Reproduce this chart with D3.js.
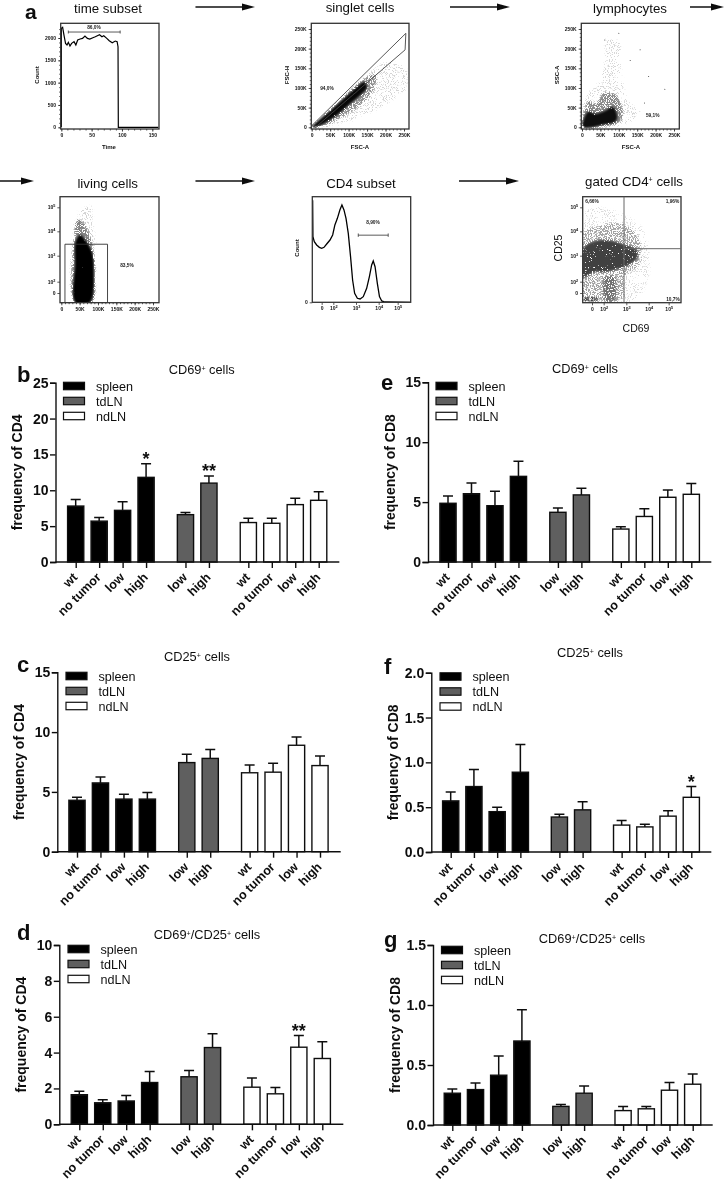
<!DOCTYPE html>
<html><head><meta charset="utf-8">
<style>html,body{margin:0;padding:0;background:#fff}svg{display:block;font-family:"Liberation Sans",Arial,sans-serif}</style>
<script src="https://cdn.jsdelivr.net/npm/d3@7"></script></head><body>
<script>
// ---------- bar chart data ----------
const categories = ["wt","no tumor","low","high","low","high","wt","no tumor","low","high"];
const organs = ["spleen","spleen","spleen","spleen","tdLN","tdLN","ndLN","ndLN","ndLN","ndLN"];
const slots = [0,1,2,3,4.68,5.68,7.36,8.36,9.36,10.36];
const legendLabels = ["spleen","tdLN","ndLN"];
const cd4Cd69Mean = [7.8,5.7,7.2,11.8,6.6,11,5.5,5.4,8,8.6];
const cd4Cd69Top  = [8.7,6.2,8.4,13.7,6.9,12,6.1,6.1,8.9,9.8];
const cd4Cd25Mean = [4.3,5.75,4.4,4.4,7.45,7.8,6.6,6.65,8.9,7.2];
const cd4Cd25Top  = [4.55,6.25,4.8,4.95,8.15,8.55,7.25,7.4,9.6,8.0];
const cd4DoubleMean = [1.65,1.2,1.3,2.33,2.65,4.28,2.07,1.7,4.3,3.67];
const cd4DoubleTop  = [1.85,1.37,1.6,2.95,3.0,5.05,2.58,2.05,4.95,4.6];
const cd8Cd69Mean = [4.9,5.7,4.7,7.15,4.15,5.6,2.75,3.8,5.4,5.65];
const cd8Cd69Top  = [5.5,6.6,5.9,8.4,4.5,6.15,2.95,4.45,6.0,6.55];
const cd8Cd25Mean = [.57,.73,.45,.89,.39,.47,.30,.28,.40,.61];
const cd8Cd25Top  = [.67,.92,.50,1.2,.42,.56,.35,.31,.46,.73];
const cd8DoubleMean = [.265,.295,.415,.70,.155,.265,.12,.135,.29,.34];
const cd8DoubleTop  = [.30,.35,.575,.96,.17,.325,.155,.155,.355,.425];

// ---------- gating plot data ----------
const timeT = [0,0,2.2,4.4,7,9.4,11.6,14.3,17,21,24,27,31,35,39,43,47,52,56,63,67,70,75,79,84,89,92,93.5,94,97,160];
const timeCount = [0,2216,2238,2066,1880,1843,1902,1820,1880,1917,1843,1955,1977,1992,2044,1992,1977,2007,2029,2074,2029,2052,1992,1940,1895,1932,1917,1805,0,0,0];
const cd4X = [-1.54,-1.49,-1.26,-.86,-.4,0,.4,.86,1.43,1.89,2.07,2.18,2.29,2.38,2.47,2.56,2.66,2.76,2.85,2.94,3.06,3.18,3.32,3.47,3.59,3.69,3.76,3.84,3.94,4.04,4.16,4.33,5.68];
const cd4Y = [105,67.5,62.3,58.9,56.5,55.5,56.5,59.9,64,69.2,79.5,86.3,94.9,100,94.9,86.3,70.9,46.9,22.9,9.2,4.1,3.4,5.8,14.4,26.4,38.4,42.5,36.6,19.5,5.8,1.4,.3,0];

const singletCloud = [
 {o:.17, p:[[10,0],[80,70],[150,135],[195,165],[255,150],[258,100],[220,70],[170,40],[120,20],[60,3]]},
 {o:.32, p:[[0,0],[60,55],[110,100],[150,130],[175,135],[170,100],[140,62],[100,35],[55,10],[20,0]]},
 {o:.95, p:[[2,1],[50,42],[95,80],[124,104],[142,116],[150,101],[130,80],[98,55],[60,25],[18,3]]}];
const singletGate = [[0,4],[255,239],[253,197],[10,0]];
const lymphCloud = [
 {o:.16, p:[[5,2],[9,78],[40,110],[62,170],[65,225],[100,225],[108,140],[125,70],[160,36],[109,6]]},
 {o:.36, p:[[2,0],[5,40],[18,68],[36,60],[59,88],[92,84],[112,36],[104,12],[54,2]]},
 {o:.9,  p:[[2,0],[7,26],[18,40],[36,34],[63,42],[84,52],[96,27],[90,14],[54,6],[27,0]]}];
const lymphOutliers = [[225,97],[100,239],[62,222],[158,197],[181,129],[131,170],[170,62]];
const livingCloud = [
 {o:.17, p:[[37,3.92],[41,4.6],[51,4.96],[83,5.03],[87,4.33],[92,3.37]]},
 {o:.38, p:[[36,-1.7],[34,3.92],[41,4.47],[55,4.47],[73,4.05],[90,3.1],[93,2.06],[86,-1.7]]},
 {o:1,   p:[[38,-1.7],[37,2.7],[39,3.6],[51,3.85],[67,3.6],[85,3.1],[89,2.32],[86,-.65],[77,-1.7]]}];
const livingGate = [[10,-1.7],[10,3.47],[126,3.47],[126,-1.7]];
const gatedCloud = [
 {o:.14, p:[[-1.49,-1.53],[-1.49,4.76],[.57,5.03],[3.55,4.33],[4,3.35],[4,2.19],[3.4,-1.2]]},
 {o:.26, p:[[-1.49,-1.53],[-1.49,3.92],[.57,4.2],[2.81,4.33],[3.55,3.78],[3.63,2.71],[2.96,2.19],[2.81,-1.2],[1.71,-1.53]]},
 {o:.3,  p:[[2.07,-1.53],[2.07,2.19],[2.46,2.19],[2.46,-1.53]]},
 {o:.6,  p:[[-1.49,2.19],[-1.49,3.3],[1.71,3.64],[2.96,3.44],[3.47,3.23],[3.47,2.9],[2.96,2.58],[2.07,2.38],[.57,2.38]]}];

const kTicks = [0,50,100,150,200,250];
const kMinor = d3.range(0,260,10);
const decadeTicks = [0,2,3,4,5];
const countTicks = [0,500,1000,1500,2000];
const timeTicks = [0,50,100,150];

// ---------- page ----------
const W=724,H=1181;
const svg=d3.select("body").append("svg").attr("width",W).attr("height",H).attr("viewBox",[0,0,W,H]);
svg.append("rect").attr("width",W).attr("height",H).attr("fill","#fff");
const defs=svg.append("defs");
const soft=defs.append("filter").attr("id","soft").attr("filterUnits","userSpaceOnUse").attr("x",0).attr("y",0).attr("width",W).attr("height",H);
soft.append("feGaussianBlur").attr("stdDeviation",.42);
const softB=defs.append("filter").attr("id","softB").attr("filterUnits","userSpaceOnUse").attr("x",0).attr("y",0).attr("width",W).attr("height",H);
softB.append("feGaussianBlur").attr("stdDeviation",.28);
// density stipple: the nested outlines above carry the cloud shapes, this only gives them a grain
const st=defs.append("filter").attr("id","stipple").attr("filterUnits","userSpaceOnUse").attr("x",0).attr("y",0).attr("width",W).attr("height",H).attr("color-interpolation-filters","sRGB");
st.append("feGaussianBlur").attr("in","SourceAlpha").attr("stdDeviation",1.2).attr("result","D");
st.append("feTurbulence").attr("type","fractalNoise").attr("baseFrequency",.95).attr("numOctaves",2).attr("seed",4).attr("result","T");
st.append("feColorMatrix").attr("in","T").attr("type","matrix").attr("values","0 0 0 0 0 0 0 0 0 0 0 0 0 0 0 1 0 0 0 0").attr("result","N");
st.append("feComposite").attr("in","D").attr("in2","N").attr("operator","arithmetic").attr("k1",0).attr("k2",.55).attr("k3",1).attr("k4",-.66).attr("result","S");
const ct=st.append("feComponentTransfer").attr("in","S").attr("result","S2");
ct.append("feFuncA").attr("type","linear").attr("slope",14).attr("intercept",0);
st.append("feComposite").attr("in","S2").attr("in2","D").attr("operator","in");

const gA=svg.append("g").attr("filter","url(#soft)");
const gB=svg.append("g").attr("filter","url(#softB)");

// ---------- panel a helpers ----------
function sup(sel){ // turn decade tick labels into 10 with a superscript
  sel.each(function(d){const t=d3.select(this);t.text(null);
    if(d===0){t.text("0");return;}
    t.append("tspan").text("10");
    t.append("tspan").text(d).attr("dy",-2).attr("font-size",3.8);});
}
let clipN=0;
function frame(f){
  const g=gA.append("g");
  const id="clip"+(clipN++);
  defs.append("clipPath").attr("id",id).append("rect").attr("x",f.l).attr("y",f.t).attr("width",f.r-f.l).attr("height",f.b-f.t);
  const content=g.append("g").attr("clip-path",`url(#${id})`);
  const styleAxis=a=>{a.select(".domain").remove();a.selectAll("line").attr("stroke","#111").attr("stroke-width",.7);
    a.selectAll("text").attr("font-size",5).attr("font-weight","bold").attr("fill","#111").attr("font-family","Liberation Sans");};
  if(f.xTicks){
    const ax=g.append("g").attr("transform",`translate(0,${f.b})`);
    if(f.xMinor) ax.append("g").call(d3.axisBottom(f.x).tickValues(f.xMinor).tickSize(1.5).tickFormat("")).call(styleAxis);
    const m=ax.append("g").call(d3.axisBottom(f.x).tickValues(f.xTicks).tickSize(2.6).tickPadding(2).tickFormat(f.xFmt||(d=>d))).call(styleAxis);
    if(f.xSup) m.selectAll("text").call(sup);
  }
  if(f.yTicks){
    const ay=g.append("g").attr("transform",`translate(${f.l},0)`);
    if(f.yMinor) ay.append("g").call(d3.axisLeft(f.y).tickValues(f.yMinor).tickSize(1.5).tickFormat("")).call(styleAxis);
    const m=ay.append("g").call(d3.axisLeft(f.y).tickValues(f.yTicks).tickSize(2.6).tickPadding(2).tickFormat(f.yFmt||(d=>d))).call(styleAxis);
    if(f.ySup) m.selectAll("text").call(sup);
  }
  g.append("rect").attr("x",f.l).attr("y",f.t).attr("width",f.r-f.l).attr("height",f.b-f.t).attr("fill","none").attr("stroke","#333").attr("stroke-width",1.3);
  return {g,content};
}
function cloud(content,f,layers){
  const line=d3.line().x(d=>f.x(d[0])).y(d=>f.y(d[1])).curve(d3.curveCatmullRomClosed.alpha(.5));
  const c=content.append("g").attr("filter","url(#stipple)");
  c.selectAll("path").data(layers).join("path").attr("d",d=>line(d.p)).attr("fill","#000").attr("fill-opacity",d=>d.o);
}
function small(g,x,y,txt){g.append("text").attr("x",x).attr("y",y).attr("text-anchor","middle").attr("font-size",4.8).attr("font-weight","bold").attr("fill","#222").text(txt);}
function axisName(g,x,y,txt,rot,size=6){
  g.append("text").attr("transform",`translate(${x},${y})${rot?" rotate(-90)":""}`).attr("text-anchor","middle").attr("font-size",size).attr("font-weight","bold").attr("fill","#111").text(txt);
}
function title(g,x,y,txt,supAfter,rest){
  const t=g.append("text").attr("x",x).attr("y",y).attr("text-anchor","middle").attr("font-size",13.3).attr("fill","#111").text(txt);
  if(supAfter){t.append("tspan").text("+").attr("dy",-4).attr("font-size",7);t.append("tspan").text(rest).attr("dy",4);}
}
const kFmt=d=>d===0?"0":d+"K";

// time subset
{
 const f={l:60.7,r:159,t:23.3,b:129,
  x:d3.scaleLinear().domain([0,150]).range([61.3,152.3]),
  y:d3.scaleLinear().domain([0,2000]).range([127.3,38]),xTicks:timeTicks,yTicks:countTicks,
  xMinor:d3.range(0,160,10),yMinor:d3.range(0,2300,100)};
 const {g,content}=frame(f);
 content.append("path").datum(timeT.map((t,i)=>[t,timeCount[i]])).attr("fill","none").attr("stroke","#000").attr("stroke-width",1.2)
   .attr("d",d3.line().x(d=>f.x(d[0])).y(d=>f.y(d[1])));
 g.append("path").attr("d",`M${f.x(11.6)},${f.y(2134)}H${f.x(97)}M${f.x(11.6)},${f.y(2134)-1.5}v3M${f.x(97)},${f.y(2134)-1.5}v3`).attr("stroke","#333").attr("fill","none").attr("stroke-width",.8);
 small(g,94,29,"86,0%");
 axisName(g,38.5,75,"Count",true);axisName(g,109,149,"Time",false);
}
// singlet
{
 const f={l:311.3,r:409,t:23.3,b:129,
  x:d3.scaleLinear().domain([0,250]).range([311.7,404]),
  y:d3.scaleLinear().domain([0,250]).range([127.3,29]),
  xTicks:kTicks,yTicks:kTicks,xFmt:kFmt,yFmt:kFmt,xMinor:kMinor,yMinor:kMinor};
 const {g,content}=frame(f);
 cloud(content,f,singletCloud);
 content.append("path").attr("d",d3.line().x(d=>f.x(d[0])).y(d=>f.y(d[1])).curve(d3.curveLinearClosed)(singletGate)).attr("fill","none").attr("stroke","#444").attr("stroke-width",.9);
 small(g,327,90,"94,0%");
 axisName(g,289,75,"FSC-H",true);axisName(g,360,149,"FSC-A",false);
}
// lymphocytes
{
 const f={l:581.3,r:679.3,t:23.3,b:129,
  x:d3.scaleLinear().domain([0,250]).range([582,674]),
  y:d3.scaleLinear().domain([0,250]).range([127.3,29]),
  xTicks:kTicks,yTicks:kTicks,xFmt:kFmt,yFmt:kFmt,xMinor:kMinor,yMinor:kMinor};
 const {g,content}=frame(f);
 cloud(content,f,lymphCloud);
 content.append("g").selectAll("circle").data(lymphOutliers).join("circle").attr("cx",d=>f.x(d[0])).attr("cy",d=>f.y(d[1])).attr("r",.5).attr("fill","#333");
 small(g,652.7,116.5,"59,1%");
 axisName(g,559,75,"SSC-A",true);axisName(g,631,149,"FSC-A",false);
}
const logY=()=>d3.scaleLinear().domain([-1.7,0,2,3,4,5,5.44]).range([302.7,293,281.7,255.7,231.3,207.3,196.7]);
// living
{
 const f={l:60,r:159,t:196.7,b:302.7,
  x:d3.scaleLinear().domain([0,250]).range([61.3,153]),y:logY(),
  xTicks:kTicks,yTicks:decadeTicks,xFmt:kFmt,ySup:true,xMinor:kMinor};
 const {g,content}=frame(f);
 cloud(content,f,livingCloud);
 content.append("path").attr("d",d3.line().x(d=>f.x(d[0])).y(d=>f.y(d[1])).curve(d3.curveLinearClosed)(livingGate)).attr("fill","none").attr("stroke","#333").attr("stroke-width",.9);
 small(g,127,267,"83,5%");
}
// CD4 subset
{
 const f={l:312.3,r:410.7,t:196.7,b:302.3,
  x:d3.scaleLinear().domain([-1.6,0,2,3,4,5,5.68]).range([312.3,321.7,333.3,356,378.7,397.7,410.7]),
  y:d3.scaleLinear().domain([0,100]).range([302.3,205]),xTicks:decadeTicks,xSup:true,yTicks:[0]};
 const {g,content}=frame(f);
 content.append("path").datum(cd4X.map((x,i)=>[x,cd4Y[i]])).attr("fill","none").attr("stroke","#000").attr("stroke-width",1.3)
   .attr("d",d3.line().x(d=>f.x(d[0])).y(d=>f.y(d[1])));
 const gy=f.y(69);
 g.append("path").attr("d",`M${f.x(3.1)},${gy}H${f.x(4.5)}M${f.x(3.1)},${gy-1.7}v3.4M${f.x(4.5)},${gy-1.7}v3.4`).attr("stroke","#333").attr("fill","none").attr("stroke-width",.8);
 small(g,373,224,"8,90%");
 axisName(g,299,248,"Count",true);
}
// gated CD4+
{
 const f={l:582.7,r:681,t:196.7,b:302.7,
  x:d3.scaleLinear().domain([-1.6,0,2,3,4,5,5.62]).range([582.7,592,603.7,626.3,648.7,668.7,681]),y:logY(),
  xTicks:decadeTicks,yTicks:decadeTicks,xSup:true,ySup:true};
 const {g,content}=frame(f);
 cloud(content,f,gatedCloud);
 g.append("line").attr("x1",624).attr("x2",624).attr("y1",f.t).attr("y2",f.b).attr("stroke","#666").attr("stroke-width",1);
 g.append("line").attr("x1",624).attr("x2",f.r).attr("y1",248.7).attr("y2",248.7).attr("stroke","#666").attr("stroke-width",1);
 small(g,592,202.5,"6,66%");small(g,672.5,202.5,"1,96%");small(g,591,300.5,"80,3%");small(g,673,300.5,"10,7%");
 g.append("text").attr("transform","translate(562,248) rotate(-90)").attr("text-anchor","middle").attr("font-size",10.5).attr("fill","#111").text("CD25");
 g.append("text").attr("x",636).attr("y",332).attr("text-anchor","middle").attr("font-size",10.5).attr("fill","#111").text("CD69");
}
// arrows and titles of panel a
const arrows=[[195.5,255,7],[450,510,7],[690,724,7],[0,34,181],[195.5,255,181],[459,519,181]];
arrows.forEach(a=>{
  gA.append("line").attr("x1",a[0]).attr("x2",a[1]-8).attr("y1",a[2]).attr("y2",a[2]).attr("stroke","#111").attr("stroke-width",1.5);
  gA.append("path").attr("d",`M${a[1]},${a[2]}l-13,-3.6l0,7.2z`).attr("fill","#111");
});
title(gA,108,12.5,"time subset");title(gA,360,12,"singlet cells");title(gA,630,12.5,"lymphocytes");
title(gA,107.7,188,"living cells");title(gA,361,188,"CD4 subset");title(gA,634,186,"gated CD4","+"," cells");
gA.append("text").attr("x",25).attr("y",19).attr("font-size",21).attr("font-weight","bold").attr("fill","#111").text("a");

// ---------- bar panels ----------
const colour={spleen:"#000",tdLN:"#5f5f5f",ndLN:"#fff"};
const panels=[
 {letter:"b",lx:17,ly:382,ax:55.5,top:382.7,base:562,c0:75.7,c9:318.7,xEnd:339.3,max:25,ticks:[0,5,10,15,20,25],mean:cd4Cd69Mean,hi:cd4Cd69Top,yl:"frequency of CD4",tx:201.7,ty:374,title:["CD69","+"," cells"],legX:63.5,legY:386,stars:[[3,"*"],[5,"**"]],fmt:d=>d},
 {letter:"c",lx:17,ly:672,ax:57.3,top:672.3,base:851.7,c0:77,c9:320,xEnd:340.7,max:15,ticks:[0,5,10,15],mean:cd4Cd25Mean,hi:cd4Cd25Top,yl:"frequency of CD4",tx:197,ty:661,title:["CD25","+"," cells"],legX:66,legY:676,stars:[],fmt:d=>d},
 {letter:"d",lx:17,ly:940,ax:59.3,top:945,base:1124.3,c0:79.3,c9:322.3,xEnd:343.3,max:10,ticks:[0,2,4,6,8,10],mean:cd4DoubleMean,hi:cd4DoubleTop,yl:"frequency of CD4",tx:207,ty:939,title:["CD69","+","/CD25","+"," cells"],legX:68,legY:949,stars:[[8,"**"]],fmt:d=>d},
 {letter:"e",lx:381,ly:390,ax:428,top:382.3,base:562,c0:448,c9:691.3,xEnd:711.3,max:15,ticks:[0,5,10,15],mean:cd8Cd69Mean,hi:cd8Cd69Top,yl:"frequency of CD8",tx:585,ty:373,title:["CD69","+"," cells"],legX:436,legY:386,stars:[],fmt:d=>d},
 {letter:"f",lx:384,ly:674,ax:431.3,top:672.7,base:852,c0:450.7,c9:691.3,xEnd:711.3,max:2,ticks:[0,.5,1,1.5,2],mean:cd8Cd25Mean,hi:cd8Cd25Top,yl:"frequency of CD8",tx:590,ty:657,title:["CD25","+"," cells"],legX:440,legY:676.5,stars:[[9,"*"]],fmt:d3.format(".1f")},
 {letter:"g",lx:384,ly:947,ax:433,top:945,base:1125,c0:452.3,c9:692.7,xEnd:712.7,max:1.5,ticks:[0,.5,1,1.5],mean:cd8DoubleMean,hi:cd8DoubleTop,yl:"frequency of CD8",tx:592,ty:943,title:["CD69","+","/CD25","+"," cells"],legX:441.5,legY:950,stars:[],fmt:d3.format(".1f")}
];
panels.forEach(p=>{
  const g=gB.append("g");
  const x=d3.scaleLinear().domain([slots[0],slots[9]]).range([p.c0,p.c9]);
  const y=d3.scaleLinear().domain([0,p.max]).range([p.base,p.top]);
  const bw=16.2;
  const data=categories.map((c,i)=>({c,i,o:organs[i],m:p.mean[i],h:p.hi[i],s:slots[i]}));
  const e=g.append("g").attr("stroke","#111").attr("stroke-width",1.5);
  e.selectAll("path").data(data).join("path").attr("fill","none")
    .attr("d",d=>`M${x(d.s)},${y(d.m)}V${y(d.h)}M${x(d.s)-5},${y(d.h)}H${x(d.s)+5}`);
  g.append("g").selectAll("rect").data(data).join("rect")
    .attr("x",d=>x(d.s)-bw/2).attr("width",bw).attr("y",d=>y(d.m)).attr("height",d=>y(0)-y(d.m))
    .attr("fill",d=>colour[d.o]).attr("stroke","#111").attr("stroke-width",1.4);
  const ay=g.append("g").attr("transform",`translate(${p.ax},0)`).call(d3.axisLeft(y).tickValues(p.ticks).tickSize(5.5).tickPadding(1.5).tickFormat(p.fmt));
  ay.selectAll("line,path").attr("stroke","#111").attr("stroke-width",1.4);
  ay.selectAll("text").attr("font-size",14).attr("font-weight","bold").attr("fill","#111").attr("font-family","Liberation Sans");
  const axx=g.append("g").attr("transform",`translate(0,${p.base})`).call(d3.axisBottom(x).tickValues(slots).tickSize(6).tickFormat(""));
  axx.select(".domain").remove();
  axx.selectAll("line").attr("stroke","#111").attr("stroke-width",1.4);
  g.append("line").attr("x1",p.ax).attr("x2",p.xEnd).attr("y1",p.base).attr("y2",p.base).attr("stroke","#111").attr("stroke-width",1.5);
  g.append("g").selectAll("text").data(data).join("text")
    .attr("transform",d=>`translate(${x(d.s)+2.5},${p.base+16}) rotate(-45)`).attr("text-anchor","end")
    .attr("font-size",12.6).attr("font-weight","bold").attr("fill","#111").text(d=>d.c);
  g.append("text").attr("transform",`translate(${p.ax-33.5},${(p.base+p.top)/2}) rotate(-90)`).attr("text-anchor","middle")
    .attr("font-size",14).attr("font-weight","bold").attr("fill","#111").text(p.yl);
  const t=g.append("text").attr("x",p.tx).attr("y",p.ty).attr("text-anchor","middle").attr("font-size",12.8).attr("fill","#111");
  let up=false;
  p.title.forEach(s=>{const isSup=s==="+";const sp=t.append("tspan").text(s);
    if(isSup){sp.attr("dy",-3.5).attr("font-size",7);up=true;}else if(up){sp.attr("dy",3.5);up=false;}});
  g.append("text").attr("x",p.lx).attr("y",p.ly).attr("font-size",22).attr("font-weight","bold").attr("fill","#111").text(p.letter);
  const leg=g.append("g").selectAll("g").data(legendLabels).join("g").attr("transform",(d,i)=>`translate(${p.legX},${p.legY+i*15})`);
  leg.append("rect").attr("x",0).attr("y",-3.7).attr("width",21).attr("height",7.4).attr("fill",d=>colour[d]).attr("stroke","#111").attr("stroke-width",1.2);
  leg.append("text").attr("x",32.5).attr("y",4.5).attr("font-size",12.6).attr("fill","#111").text(d=>d);
  p.stars.forEach(([i,s])=>{g.append("text").attr("x",x(slots[i])).attr("y",y(p.hi[i])+1).attr("text-anchor","middle").attr("font-size",18).attr("font-weight","bold").attr("fill","#111").text(s);});
});
</script></body></html>
